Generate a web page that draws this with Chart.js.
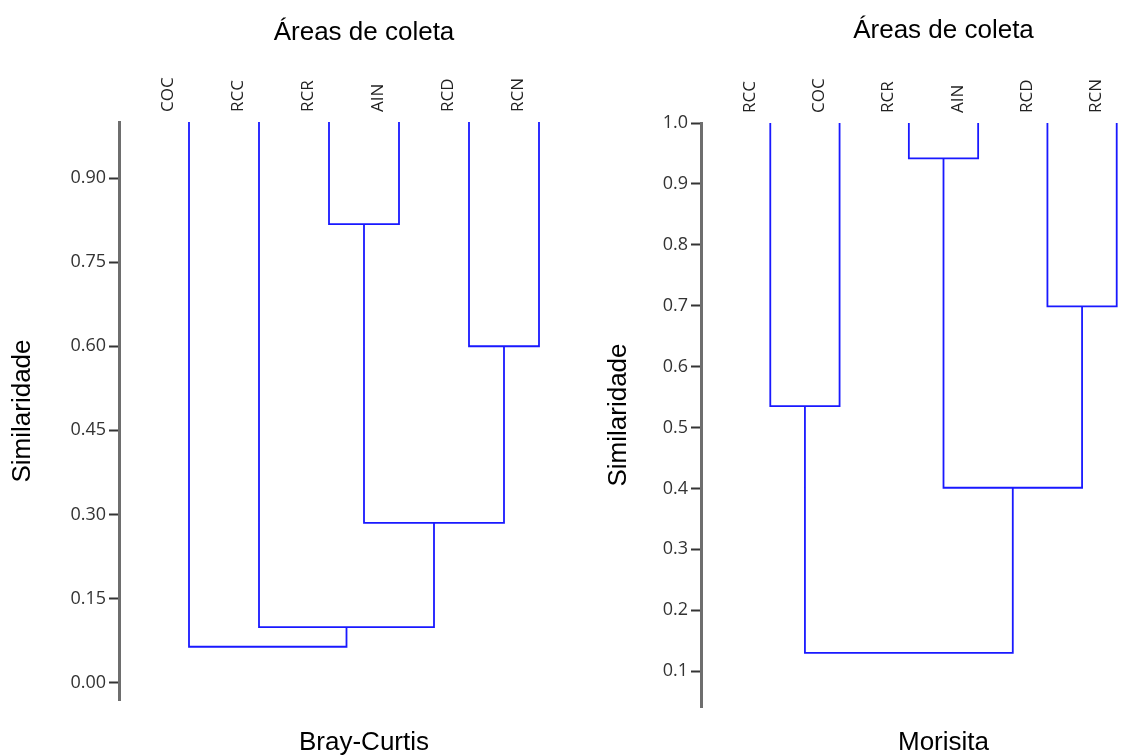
<!DOCTYPE html>
<html><head><meta charset="utf-8">
<script src="https://cdn.jsdelivr.net/npm/chart.js@4.4.1/dist/chart.umd.min.js"></script>
<style>
html,body{margin:0;padding:0;width:1134px;height:756px;overflow:hidden;background:#fff}
.box{position:absolute;top:0;height:756px}
#b1{left:0;width:620px}
#b2{left:580px;width:616px}
</style></head><body>
<div class="box" id="b1"><canvas id="c1"></canvas></div>
<div class="box" id="b2"><canvas id="c2"></canvas></div>
<script>
// ---- data ----
const topTitle = 'Áreas de coleta';
const yTitle = 'Similaridade';
const leafTop = 1.0;

const brayName = 'Bray-Curtis';
const brayLeaves = ['COC', 'RCC', 'RCR', 'AIN', 'RCD', 'RCN'];
// merges: cluster ids follow leaves (0-5), new clusters 6,7,8...
const brayJoinA = [2, 4, 6, 1, 0];
const brayJoinB = [3, 5, 7, 8, 9];
const brayHeights = [0.818, 0.600, 0.285, 0.099, 0.064];
const brayTicks = [0.00, 0.15, 0.30, 0.45, 0.60, 0.75, 0.90];

const morisitaName = 'Morisita';
const morisitaLeaves = ['RCC', 'COC', 'RCR', 'AIN', 'RCD', 'RCN'];
const morisitaJoinA = [2, 4, 0, 6, 8];
const morisitaJoinB = [3, 5, 1, 7, 9];
const morisitaHeights = [0.942, 0.699, 0.535, 0.401, 0.130];
const morisitaTicks = [0.1, 0.2, 0.3, 0.4, 0.5, 0.6, 0.7, 0.8, 0.9, 1.0];

// ---- build ----
function buildSets(leaves, A, B, H) {
  const xs = leaves.map((_, i) => i);
  const hs = leaves.map(() => leafTop);
  const sets = [];
  H.forEach((h, k) => {
    const a = A[k], b = B[k];
    sets.push({
      data: [{x: xs[a], y: hs[a]}, {x: xs[a], y: h}, {x: xs[b], y: h}, {x: xs[b], y: hs[b]}],
      borderColor: 'rgb(25,25,255)', borderWidth: 1.8, pointRadius: 0, fill: false,
      tension: 0, clip: false, xAxisID: 'x', yAxisID: 'y'
    });
    xs.push((xs[a] + xs[b]) / 2);
    hs.push(h);
  });
  return sets;
}

Chart.defaults.font.family = "'Open Sans', sans-serif";
const titleFont = {family: "'Liberation Sans', Arial, sans-serif", size: 26, lineHeight: 1};

function make(id, leaves, A, B, H, ticks, dec, name, geo) {
  new Chart(document.getElementById(id), {
    type: 'line',
    data: {datasets: buildSets(leaves, A, B, H)},
    options: {
      responsive: true, maintainAspectRatio: false, animation: false,
      layout: {padding: {left: geo.padL, right: geo.padR, top: 0, bottom: 0}},
      plugins: {legend: {display: false}, tooltip: {enabled: false}},
      scales: {
        x: {
          type: 'linear', position: 'top', min: -1, max: leaves.length,
          afterBuildTicks: s => { s.ticks = leaves.map((_, i) => ({value: i})); },
          ticks: {autoSkip: false, minRotation: 90, maxRotation: 90, padding: 2,
                  font: {size: 17}, color: '#222', callback: v => leaves[v]},
          grid: {display: false}, border: {display: false},
          title: {display: true, text: topTitle, font: titleFont, color: '#000',
                  padding: {top: geo.titleTop, bottom: 0}},
          afterFit: s => { s.height = geo.topH; }
        },
        x2: {
          type: 'linear', position: 'bottom', min: -1, max: leaves.length,
          ticks: {display: false}, grid: {display: false}, border: {display: false},
          title: {display: true, text: name, font: titleFont, color: '#000',
                  padding: {top: 0, bottom: 0}},
          afterFit: s => { s.height = geo.botH; }
        },
        y: {
          type: 'linear', position: 'left', min: geo.yMin, max: 1.0,
          afterBuildTicks: s => { s.ticks = ticks.map(v => ({value: v})); },
          ticks: {callback: v => v.toFixed(dec), font: {size: 18}, color: '#333', padding: 3},
          grid: {drawOnChartArea: false, tickLength: 10, tickColor: '#333', tickWidth: 2},
          border: {color: '#6e6e6e', width: 3},
          title: {display: true, text: yTitle, font: titleFont, color: '#000',
                  padding: {top: geo.yTitlePad, bottom: 0}},
          afterFit: s => { s.width = geo.yW; }
        }
      }
    }
  });
}

make('c1', brayLeaves, brayJoinA, brayJoinB, brayHeights, brayTicks, 2, brayName,
     {padL: 4, padR: 11, topH: 122, botH: 56, yMin: -0.031, yW: 115, titleTop: 20, yTitlePad: 6});
make('c2', morisitaLeaves, morisitaJoinA, morisitaJoinB, morisitaHeights, morisitaTicks, 1, morisitaName,
     {padL: 22, padR: 10, topH: 123, botH: 49, yMin: 0.041, yW: 99, titleTop: 18, yTitlePad: 4});
</script>
</body></html>
